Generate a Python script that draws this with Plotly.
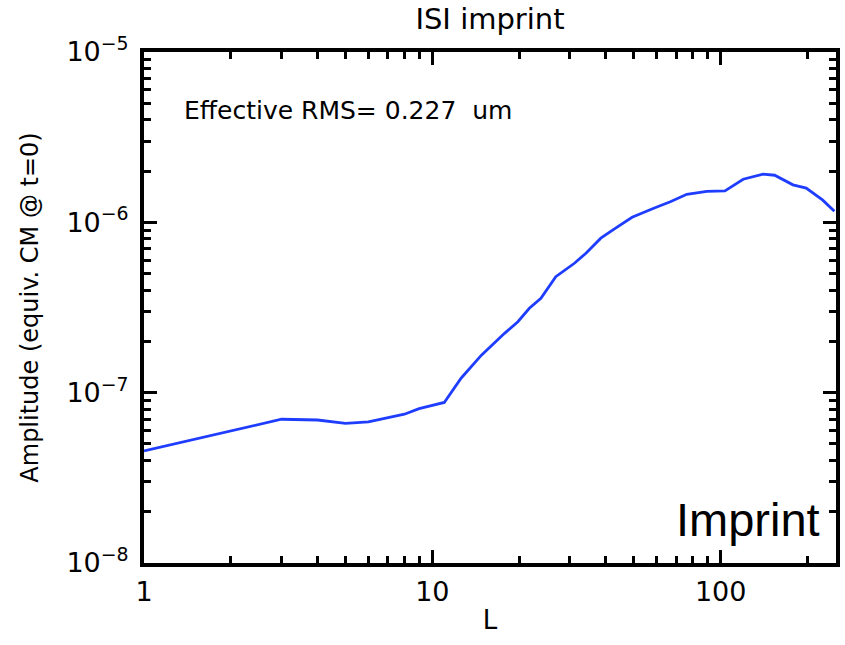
import plotly.graph_objects as go

# Data
L_vals = [1, 2, 3, 4, 5, 6, 7, 8, 9, 10, 11, 12.6, 14.8, 17.8, 19.8, 21.7, 23.8,
          26.8, 28.7, 31.1, 34.1, 38.4, 42.7, 49.3, 58.6, 66.9, 76.3, 89.5,
          103.5, 119.7, 140.3, 153.9, 178.1, 198, 226, 248]
amp_vals = [4.55e-8, 5.96e-8, 6.98e-8, 6.91e-8, 6.61e-8, 6.73e-8, 7.1e-8, 7.47e-8,
            8.06e-8, 8.41e-8, 8.76e-8, 1.22e-7, 1.66e-7, 2.23e-7, 2.61e-7, 3.13e-7,
            3.58e-7, 4.80e-7, 5.20e-7, 5.75e-7, 6.59e-7, 8.07e-7, 9.12e-7, 1.07e-6,
            1.21e-6, 1.32e-6, 1.46e-6, 1.52e-6, 1.53e-6, 1.79e-6, 1.92e-6, 1.89e-6,
            1.66e-6, 1.59e-6, 1.35e-6, 1.16e-6]

x_tickvals = [1, 10, 100]
x_ticktext = ["1", "10", "100"]
y_tickvals = [1e-8, 1e-7, 1e-6, 1e-5]
y_ticktext = ["10<sup>−8</sup>", "10<sup>−7</sup>", "10<sup>−6</sup>", "10<sup>−5</sup>"]

title_text = "ISI imprint"
x_title = "L"
y_title = "Amplitude (equiv. CM @ t=0)"
rms_text = "Effective RMS= 0.227  um"
corner_text = "Imprint"

FONT = "DejaVu Sans"

fig = go.Figure()
fig.add_trace(go.Scatter(x=L_vals, y=amp_vals, mode="lines",
                         line=dict(color="#1f3dff", width=2.8),
                         showlegend=False))

axis_common = dict(
    showline=True, linecolor="black", linewidth=4, mirror="allticks",
    ticks="inside", ticklen=13, tickwidth=3, tickcolor="black",
    showgrid=False, zeroline=False,
    minor=dict(ticks="inside", ticklen=7, tickwidth=3, tickcolor="black",
               dtick="D1", showgrid=False),
)

fig.update_xaxes(type="log", range=[0, 2.4], tickvals=x_tickvals, ticktext=x_ticktext,
                 tickfont=dict(family=FONT, size=27, color="black"),
                 title=dict(text=x_title, font=dict(family=FONT, size=26, color="black"),
                            standoff=5),
                 ticklabelstandoff=2,
                 **axis_common)
fig.update_yaxes(type="log", range=[-8, -5], tickvals=y_tickvals, ticktext=y_ticktext,
                 tickfont=dict(family=FONT, size=27, color="black"),
                 title=dict(text=y_title, font=dict(family=FONT, size=24, color="black"),
                            standoff=22),
                 ticklabelstandoff=6,
                 **axis_common)

fig.add_annotation(text=rms_text, xref="paper", yref="paper", x=0.055, y=0.885,
                   xanchor="left", yanchor="middle", showarrow=False,
                   font=dict(family=FONT, size=25, color="black"))
fig.add_annotation(text=corner_text, xref="paper", yref="paper", x=0.98, y=0.085,
                   xanchor="right", yanchor="middle", showarrow=False,
                   font=dict(family="Liberation Sans", size=47, color="black"))

fig.update_layout(
    width=845, height=645,
    margin=dict(l=144, r=5, t=52, b=82),
    paper_bgcolor="white", plot_bgcolor="white",
    title=dict(text=title_text, x=0.5, xref="paper", xanchor="center",
               y=1, yref="container", yanchor="top", pad=dict(t=9),
               font=dict(family=FONT, size=29, color="black")),
)

fig.write_html("out.html")
